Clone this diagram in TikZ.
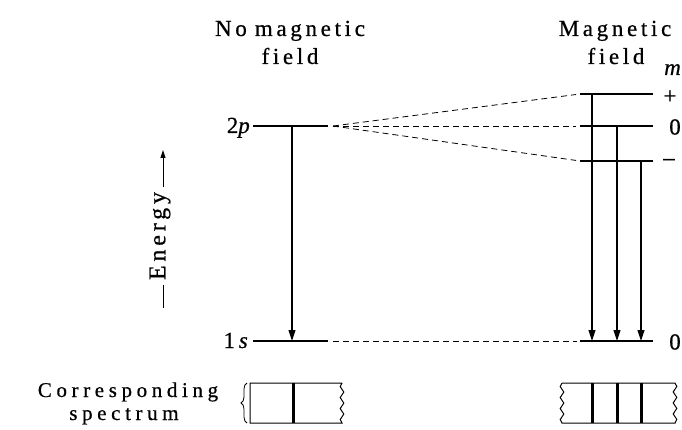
\documentclass[tikz,border=0pt]{standalone}
\usepackage{fontspec}
\setmainfont{Liberation Serif}[FakeBold=0.6]
\newfontfamily\widefont{Liberation Serif}[LetterSpace=16,FakeBold=0.6]
\newfontfamily\widerfont{Liberation Serif}[LetterSpace=22,FakeBold=0.6]
\usetikzlibrary{arrows.meta,calc,decorations.pathmorphing,decorations.pathreplacing}

\begin{document}
\begin{tikzpicture}[
  x=1pt, y=-1pt,
  line join=miter,
  >={Triangle[width=7pt,length=11pt]},
  level/.style={line width=2.4pt},
  guide/.style={line width=0.8pt, dash pattern=on 6pt off 4pt},
  trans/.style={line width=1.1pt, ->},
  head/.style={font=\widefont\fontsize{23}{25}\selectfont, inner sep=0pt, anchor=base},
  foot/.style={font=\widerfont\fontsize{21}{24}\selectfont, inner sep=0pt, anchor=base},
  tag/.style={font=\fontsize{23}{26}\selectfont, inner sep=0pt},
  specline/.style={line width=3pt},
  wavy/.style={decoration={snake, amplitude=1.8pt, segment length=11pt}}
]
\useasboundingbox (0,0) rectangle (682,430);

% === Headings ===
\node[head] (nofield1) at (290,36) {No\hspace{0.35em}magnetic};
\node[head] (nofield2) at (290,64) {field};
\node[head] (mfield1) at (615,36) {Magnetic};
\node[head] (mfield2) at (616,64) {field};
\node[tag, anchor=base west] (mlab) at (664,75) {\textit{m}};

% === Energy axis ===
\coordinate (ebot) at (163,308);
\coordinate (etop) at (163,150);
\node[head, anchor=center, rotate=90, inner sep=5pt, font=\widefont\fontsize{24}{26}\selectfont]
  (energy) at (160,236) {Energy};
\draw[line width=0.8pt] (ebot) -- (ebot |- energy.west);
\draw[line width=0.8pt, -{Triangle[width=5pt,length=8pt]}] (etop |- energy.east) -- (etop);

% === Levels without field ===
\coordinate (p2L) at (253,126);
\coordinate (p2R) at (328,126);
\coordinate (s1L) at (253,341);
\coordinate (s1R) at (328,341);
\draw[level] (p2L) -- (p2R);
\draw[level] (s1L) -- (s1R);
\node[tag, anchor=base east] (lab2p) at (250,133) {2\textit{p}};
\node[tag, anchor=base east] (lab1s) at (248,348) {1\,\textit{s}};

% === Levels with field ===
\coordinate (rpL) at (580,94);   \coordinate (rpR) at (653,94);
\coordinate (rzL) at (580,126);  \coordinate (rzR) at (653,126);
\coordinate (rmL) at (580,161);  \coordinate (rmR) at (653,161);
\coordinate (rsL) at (580,341);  \coordinate (rsR) at (653,341);
\foreach \lv in {rp,rz,rm,rs} {
  \draw[level] (\lv L) -- (\lv R);
}
\node[tag] (plus) at (670,97) {+};
\node[tag] (zero1) at (675,127) {0};
\node[tag] (minus) at (669,162) {--};
\node[tag] (zero2) at (675,342) {0};

% dashed guides (splitting of 2p)
\coordinate (focus) at (333,126);
\foreach \lv in {rp,rz,rm} {
  \draw[guide, shorten >=4pt] (focus) -- (\lv L);
}
\draw[guide, shorten <=5pt, shorten >=3pt] (s1R) -- (rsL);

% === Transitions ===
\coordinate (a0) at (292,126);  \coordinate (b0) at (292,341);
\coordinate (a1) at (592,94);   \coordinate (b1) at (592,341);
\coordinate (a2) at (617,126);  \coordinate (b2) at (617,341);
\coordinate (a3) at (641,161);  \coordinate (b3) at (641,341);
\foreach \i in {0,1,2,3} {
  \draw[trans] (a\i) -- (b\i);
}

% === Spectra ===
\node[foot] (corr1) at (128,397) {Corresponding};
\node[foot] (corr2) at (124,420) {spectrum};
\draw[line width=0.8pt, decorate, decoration={brace, amplitude=6pt}]
  (247,423) -- (247,383);

\draw[line width=1pt] (342,383) -- (250,383) -- (250,423) -- (342,423)
  decorate[wavy]{-- (342,383)};
\draw[specline] (293,383) -- (293,423);

\draw[line width=1pt] (562,383) -- (675,383)
  decorate[wavy]{-- (675,423)} -- (562,423)
  decorate[wavy]{-- (562,383)};
\foreach \x in {592,617,641} {
  \draw[specline] (\x,383) -- (\x,423);
}

\end{tikzpicture}
\end{document}
